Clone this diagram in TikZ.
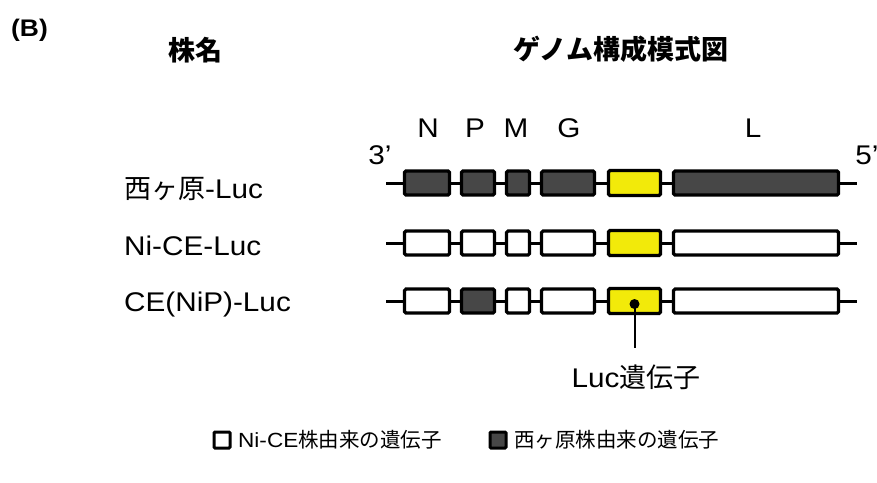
\documentclass[tikz,border=0pt]{standalone}
\usepackage{fontspec}
\setmainfont{Liberation Sans}[FakeStretch=1.1]
\newfontfamily\jp{Noto Sans CJK JP}
\definecolor{dk}{HTML}{474747}
\definecolor{yl}{HTML}{F2EA0A}
\tikzset{
  gbox/.style={draw=black, line width=3.2pt, rounded corners=1.5pt, inner sep=0pt, minimum height=24pt},
  wh/.style={gbox, fill=white},
  dkb/.style={gbox, fill=dk},
  ylb/.style={gbox, fill=yl, line width=3.4pt, minimum height=25pt},
  bb/.style={line width=3pt},
  lab/.style={font=\fontsize{27}{30}\selectfont, inner sep=0pt},
  leg/.style={font=\fontsize{20.5}{24}\selectfont, inner sep=0pt},
  legbox/.style={draw=black, line width=3pt, rounded corners=1pt, inner sep=0pt, minimum size=16pt},
}
\newcommand\generow[7]{%
  \coordinate (#1s) at (386,#2);
  \coordinate (#1e) at (857,#2);
  \draw[bb] (#1s) -- (#1e);
  \node[#3, minimum width=45pt] (#1N) at (427,#2) {};
  \node[#4, minimum width=33pt] (#1P) at (478,#2) {};
  \node[#5, minimum width=23pt] (#1M) at (518,#2) {};
  \node[#6, minimum width=53pt] (#1G) at (568,#2) {};
  \node[ylb, minimum width=52pt] (#1Luc) at (634.5,#2) {};
  \node[#7, minimum width=165pt] (#1L) at (756,#2) {};
}
\begin{document}
\begin{tikzpicture}[x=1pt,y=-1pt]
\useasboundingbox (0,0) rectangle (877,482);
% headers
\node[font=\bfseries\fontsize{24}{27}\selectfont, inner sep=0pt, anchor=base west] (panel) at (11,36) {(B)};
\node[font=\jp\bfseries\fontsize{27}{30}\selectfont, inner sep=0pt] (hname) at (195,50) {株名};
\node[font=\jp\bfseries\fontsize{27}{30}\selectfont, inner sep=0pt] (hgenome) at (621,49) {ゲノム構成模式図};
% gene letters
\node[lab, anchor=base] (lN) at (428,137) {N};
\node[lab, anchor=base] (lP) at (475,137) {P};
\node[lab, anchor=base] (lM) at (516,137) {M};
\node[lab, anchor=base] (lG) at (569,137) {G};
\node[lab, anchor=base] (lL) at (753,137) {L};
\node[lab, anchor=base] (p3) at (380,164) {3’};
\node[lab, anchor=base] (p5) at (867,164) {5’};
% strain names
\node[lab, anchor=base west] (s1) at (124,198) {{\jp 西ヶ原}-Luc};
\node[lab, anchor=base west] (s2) at (124,255) {Ni-CE-Luc};
\node[lab, anchor=base west] (s3) at (124,311) {CE(NiP)-Luc};
% rows
\generow{a}{183}{dkb}{dkb}{dkb}{dkb}{dkb}
\generow{b}{243}{wh}{wh}{wh}{wh}{wh}
\generow{c}{301}{wh}{dkb}{wh}{wh}{wh}
% Luc pin
\node[circle, fill=black, inner sep=0pt, minimum size=10pt] (pin) at (634.5,304) {};
\coordinate (pinend) at (634.5,348);
\draw[line width=2pt] (pin.center) -- (pinend);
\node[lab] (luclab) at (636,377) {Luc{\jp 遺伝子}};
% legend
\node[legbox, fill=white] (k1) at (222,440) {};
\node[leg, anchor=west] (k1t) at (238,440) {Ni-CE{\jp 株由来の遺伝子}};
\node[legbox, fill=dk] (k2) at (498,440) {};
\node[leg, anchor=west] (k2t) at (514,440) {{\jp 西ヶ原株由来の遺伝子}};
\end{tikzpicture}
\end{document}
